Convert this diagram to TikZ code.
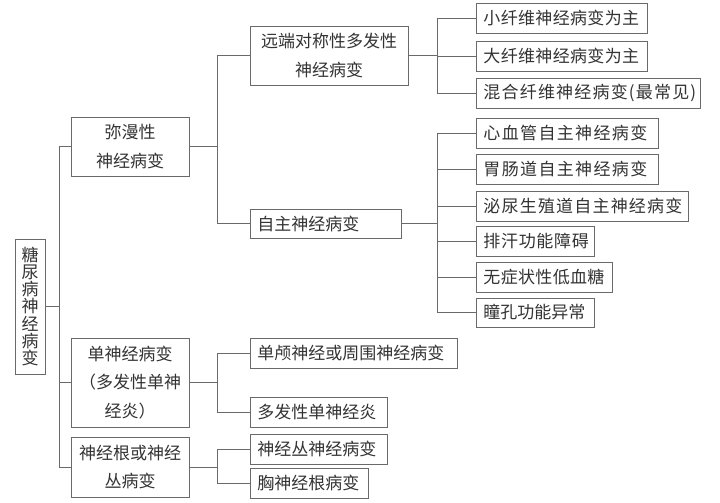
\documentclass[tikz,border=0pt]{standalone}
\usepackage{fontspec}
\setmainfont{Noto Sans CJK SC}
\definecolor{txt}{HTML}{333333}
\definecolor{ln}{HTML}{6A6A6A}
\tikzset{
  base/.style={draw=ln, line width=0.9pt, text=txt, inner ysep=0pt, inner xsep=0pt,
    font=\fontsize{17}{28.5}\selectfont},
  midbox/.style={base, align=center},
  leaf/.style={base, anchor=west, minimum height=30pt, align=left, inner xsep=7pt},
  conn/.style={draw=ln, line width=0.9pt}
}
\newcommand{\ls}[2]{{\addfontfeature{LetterSpace=#1}#2}}
\begin{document}
\begin{tikzpicture}[x=1pt,y=-1pt]
\useasboundingbox[fill=white] (0,0) rectangle (720,503);
% root
\node[midbox, minimum width=30pt, minimum height=135pt, font=\fontsize{17}{17.3}\selectfont] (root) at (30,306.5) {糖\\尿\\病\\神\\经\\病\\变};
% level 1
\node[midbox, minimum width=118pt, minimum height=59pt] (d) at (130,146.5) {弥漫性\\神经病变};
\node[midbox, minimum width=118pt, minimum height=89pt] (m) at (130,382.5) {单神经病变\\（多发性单神\\经炎）};
\node[midbox, minimum width=118pt, minimum height=60pt] (r) at (130,467) {神经根或神经\\丛病变};
% level 2
\node[midbox, minimum width=158pt, minimum height=59pt] (ds) at (329,55.5) {远端对称性多发性\\神经病变};
\node[leaf, text width=137pt, minimum height=29pt, inner xsep=7pt] (au) at (250,223.5) {自主神经病变};
\node[leaf, text width=193pt] (mc) at (250,353) {单颅神经或周围神经病变};
\node[leaf, text width=123pt] (mm) at (250,412) {多发性单神经炎};
\node[leaf, text width=123pt] (rp) at (250,449) {神经丛神经病变};
\node[leaf, text width=104pt] (rt) at (250,483) {胸神经根病变};
% level 3
\node[leaf, text width=157pt] (s1) at (476,18) {\ls{2}{小纤维神经病变为主}};
\node[leaf, text width=157pt] (s2) at (476,56) {\ls{2}{大纤维神经病变为主}};
\node[leaf, text width=210pt] (s3) at (476,93) {\ls{7}{混合纤维神经病变(最常见)}};
\node[leaf, text width=168pt] (a1) at (476,133) {\ls{8}{心血管自主神经病变}};
\node[leaf, text width=168pt] (a2) at (476,169) {\ls{8}{胃肠道自主神经病变}};
\node[leaf, text width=198pt] (a3) at (476,206) {\ls{7}{泌尿生殖道自主神经病变}};
\node[leaf, text width=104pt] (a4) at (476,241) {\ls{4}{排汗功能障碍}};
\node[leaf, text width=122pt] (a5) at (476,277) {\ls{2}{无症状性低血糖}};
\node[leaf, text width=104pt, minimum height=29pt] (a6) at (476,312.5) {瞳孔功能异常};
% connectors
\foreach \c in {d,m,r} \draw[conn] (root.east) -- +(14,0) |- (\c.west);
\foreach \c in {ds,au} \draw[conn] (d.east) -- +(28,0) |- (\c.west);
\foreach \c in {mc,mm} \draw[conn] (m.east) -- +(28,0) |- (\c.west);
\foreach \c in {rp,rt} \draw[conn] (r.east) -- +(28,0) |- (\c.west);
\foreach \c in {s1,s2,s3} \draw[conn] (ds.east) -- +(29,0) |- (\c.west);
\foreach \c in {a1,a2,a3,a4,a5,a6} \draw[conn] (au.east) -- +(36,0) |- (\c.west);
\end{tikzpicture}
\end{document}
